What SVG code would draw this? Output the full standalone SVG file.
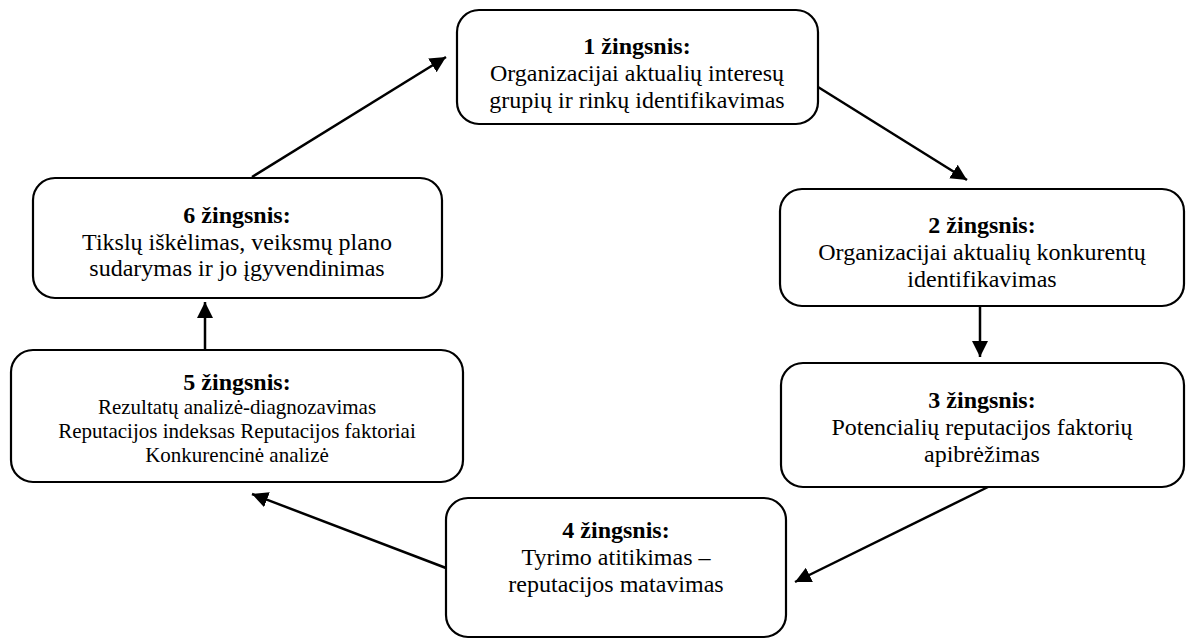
<svg xmlns="http://www.w3.org/2000/svg" width="1186" height="639" viewBox="0 0 1186 639">
<defs>
<style>
.box{fill:#fff;stroke:#000;stroke-width:2.2}
.t{font-family:"Liberation Serif","Times New Roman",serif;font-size:24px;text-anchor:middle;fill:#000}
.b{font-weight:bold}
.s{font-size:21px}
.c{stroke:#000;stroke-width:2.5;fill:none;marker-end:url(#ah)}
</style>
<marker id="ah" markerUnits="userSpaceOnUse" markerWidth="18" markerHeight="16" refX="16" refY="8" orient="auto">
<path d="M0,0 L16,8 L0,16 Z" fill="#000"/>
</marker>
</defs>
<rect width="1186" height="639" fill="#fff"/>
<g id="connectors">
<line class="c" x1="252" y1="177" x2="446" y2="57"/>
<line class="c" x1="818" y1="87" x2="967" y2="180"/>
<line class="c" x1="980" y1="307" x2="980" y2="357"/>
<line class="c" x1="988" y1="487" x2="795" y2="582"/>
<line class="c" x1="446" y1="568" x2="252" y2="494"/>
<line class="c" x1="205" y1="350" x2="205" y2="302"/>
</g>
<g id="step1">
<rect class="box" x="457" y="10" width="361" height="114" rx="22"/>
<text class="t b" x="637" y="54">1 žingsnis:</text>
<text class="t" x="637" y="81">Organizacijai aktualių interesų</text>
<text class="t" x="637" y="108">grupių ir rinkų identifikavimas</text>
</g>
<g id="step2">
<rect class="box" x="780" y="189" width="404" height="117" rx="22"/>
<text class="t b" x="982" y="233">2 žingsnis:</text>
<text class="t" x="982" y="260">Organizacijai aktualių konkurentų</text>
<text class="t" x="982" y="287">identifikavimas</text>
</g>
<g id="step3">
<rect class="box" x="781" y="363" width="403" height="124" rx="22"/>
<text class="t b" x="982" y="408">3 žingsnis:</text>
<text class="t" x="982" y="435">Potencialių reputacijos faktorių</text>
<text class="t" x="982" y="462">apibrėžimas</text>
</g>
<g id="step4">
<rect class="box" x="446" y="498" width="340" height="139" rx="22"/>
<text class="t b" x="616" y="538">4 žingsnis:</text>
<text class="t" x="616" y="565">Tyrimo atitikimas –</text>
<text class="t" x="616" y="592">reputacijos matavimas</text>
</g>
<g id="step5">
<rect class="box" x="11" y="350" width="452" height="132" rx="22"/>
<text class="t b" x="237" y="390">5 žingsnis:</text>
<text class="t s" x="237" y="414">Rezultatų analizė-diagnozavimas</text>
<text class="t s" x="237" y="438">Reputacijos indeksas Reputacijos faktoriai</text>
<text class="t s" x="237" y="462">Konkurencinė analizė</text>
</g>
<g id="step6">
<rect class="box" x="33" y="178" width="409" height="120" rx="22"/>
<text class="t b" x="237" y="223">6 žingsnis:</text>
<text class="t" x="237" y="250">Tikslų iškėlimas, veiksmų plano</text>
<text class="t" x="237" y="276">sudarymas ir jo įgyvendinimas</text>
</g>
</svg>
